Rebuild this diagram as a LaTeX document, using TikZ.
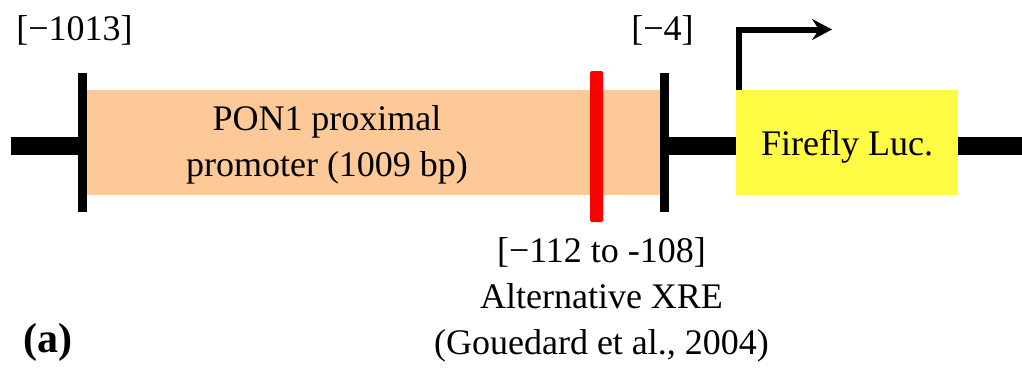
\documentclass[tikz,border=0pt]{standalone}
\usepackage{fontspec}
\setmainfont{LiberationSerif}[Extension=.ttf, UprightFont=*-Regular, BoldFont=*-Bold]
\usetikzlibrary{positioning,arrows.meta}
\definecolor{promcol}{RGB}{253,201,152}
\definecolor{luccol}{RGB}{255,250,68}
\begin{document}
\begin{tikzpicture}[x=1pt, y=-1pt, inner sep=0pt, outer sep=0pt,
	every node/.append style={font=\fontsize{36}{45.5}\selectfont},
	backbone/.style={draw=black, line width=18pt},
	tickbar/.style={fill=black, minimum width=9pt, minimum height=139pt},
	xrebar/.style={fill=red, minimum width=13pt, minimum height=151pt, rounded corners=1.5pt},
	tss/.style={draw=black, line width=6pt, line join=miter, -{Stealth[length=20pt, width=21pt, inset=7pt]}}]
	\useasboundingbox (0,0) rectangle (1022,367);
	% DNA ends
	\coordinate (dnastart) at (11,146);
	\coordinate (dnaend) at (1022,146);
	% promoter region
	\node[fill=promcol, minimum width=573pt, minimum height=105pt, anchor=north west] (promoter) at (87,90) {};
	\node[align=center] (promtext) at (327,145) {PON1 proximal\\promoter (1009 bp)};
	\node[tickbar] (tickL) at (82.5,142.5) {};
	\node[tickbar] (tickR) at (664.5,142.5) {};
	\node[xrebar] (xre) at (596.5,146.5) {};
	% reporter
	\node[fill=luccol, minimum width=222pt, minimum height=105pt, anchor=north west, text depth=0pt] (luc) at (736,90) {Firefly Luc.};
	\path[backbone] (dnastart) -- (dnastart -| tickL.west);
	\path[backbone] (tickR.east |- dnastart) -- (luc.west |- dnastart);
	\path[backbone] (luc.east |- dnastart) -- (dnaend);
	% transcription start
	\coordinate (tsshead) at (832,29.5);
	\path[tss] ([xshift=3pt]luc.north west) |- (tsshead);
	% labels
	\node[above=28pt of tickL, xshift=-8pt] (labL) {[−1013]};
	\node[above=28pt of tickR, xshift=-2pt] (labR) {[−4]};
	\node[below=16pt of xre, xshift=5pt, align=center, font=\fontsize{36}{46}\selectfont] (labxre) {[−112 to -108]\\Alternative XRE\\(Gouedard et al., 2004)};
	\node[font=\fontsize{42}{46}\selectfont\bfseries] (panel) at (47.5,342) {(a)};
\end{tikzpicture}
\end{document}
